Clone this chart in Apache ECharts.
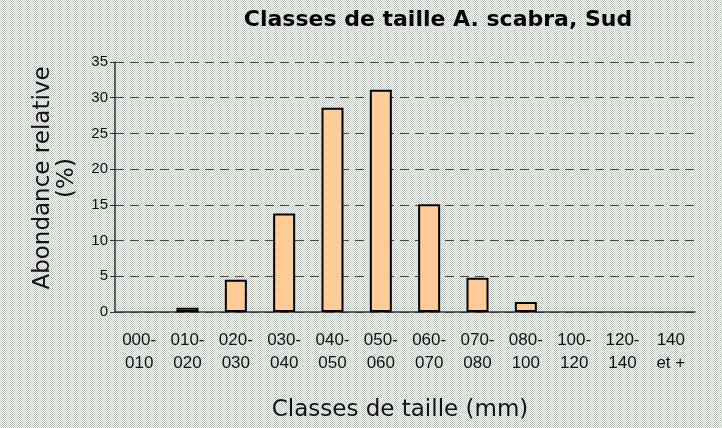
<!DOCTYPE html>
<html>
<head>
<meta charset="utf-8">
<script src="https://cdn.jsdelivr.net/npm/echarts@6/dist/echarts.min.js"></script>
<style>
html, body { margin: 0; padding: 0; }
#chart { width: 722px; height: 428px; }
</style>
</head>
<body>
<div id="chart"></div>
<script>
// classes de taille (mm)
var classes = ['000-\n010', '010-\n020', '020-\n030', '030-\n040', '040-\n050', '050-\n060',
  '060-\n070', '070-\n080', '080-\n100', '100-\n120', '120-\n140', '140\net +'];
// abondance relative (%)
var abondance = [0, 0.6, 4.5, 13.8, 28.6, 31.1, 15.1, 4.8, 1.4, 0, 0, 0];
var yTicks = [0, 5, 10, 15, 20, 25, 30, 35];

// fond tramé
var pat = document.createElement('canvas');
pat.width = 2; pat.height = 2;
var ctx = pat.getContext('2d');
ctx.fillStyle = '#ffffff';
ctx.fillRect(0, 0, 2, 2);
ctx.fillStyle = '#b9c6b9';
ctx.fillRect(0, 0, 1, 1);
ctx.fillRect(1, 1, 1, 1);

var chart = echarts.init(document.getElementById('chart'));
var option = {
  backgroundColor: { image: pat, repeat: 'repeat' },
  animation: false,
  title: {
    text: 'Classes de taille A. scabra, Sud',
    left: 433,
    textAlign: 'center',
    top: 4,
    textStyle: { fontFamily: 'DejaVu Sans', fontWeight: 'bold', fontSize: 22, color: '#000' }
  },
  grid: { left: 115, right: 27, top: 62, bottom: 116, containLabel: false },
  xAxis: {
    type: 'category',
    data: classes,
    name: 'Classes de taille (mm)',
    nameLocation: 'middle',
    nameGap: 87,
    nameTextStyle: { fontFamily: 'DejaVu Sans', fontSize: 23, color: '#111', padding: [0, 10, 0, 0] },
    axisLine: { lineStyle: { color: '#333', width: 1.5 } },
    axisTick: { length: 5, lineStyle: { color: '#333' } },
    axisLabel: {
      interval: 0,
      margin: 17,
      lineHeight: 23,
      fontFamily: 'Liberation Sans',
      fontSize: 17,
      color: '#111'
    }
  },
  yAxis: {
    type: 'value',
    min: 0,
    max: 35,
    interval: 5,
    name: 'Abondance relative\n(%)',
    nameLocation: 'middle',
    nameRotate: 90,
    nameGap: 36,
    nameTextStyle: { fontFamily: 'DejaVu Sans', fontSize: 23, color: '#111', lineHeight: 24, padding: [0, 0, 0, 18] },
    axisLine: { show: true, lineStyle: { color: '#333', width: 1.5 } },
    axisTick: { show: true, length: 5, lineStyle: { color: '#333' } },
    axisLabel: {
      margin: 7,
      fontFamily: 'Liberation Sans',
      fontSize: 15,
      color: '#111',
      formatter: function (v) { return yTicks.indexOf(v) >= 0 ? String(v) : ''; }
    },
    splitLine: { lineStyle: { color: '#444', type: [9, 6], width: 1 } }
  },
  series: [{
    type: 'bar',
    data: abondance.map(function (v) { return v === 0 ? '-' : v; }),
    barWidth: 22,
    itemStyle: { color: '#ffcc99', borderColor: '#000', borderWidth: 2 },
    markPoint: {
      symbol: 'none',
      data: [{ coord: [5, 33.8], value: 'n=1660' }],
      label: {
        show: true,
        formatter: 'n=1660',
        position: 'inside',
        offset: [42, 0],
        fontFamily: 'DejaVu Sans',
        fontSize: 20,
        color: '#111'
      }
    }
  }]
};
chart.setOption(option);
</script>
</body>
</html>
